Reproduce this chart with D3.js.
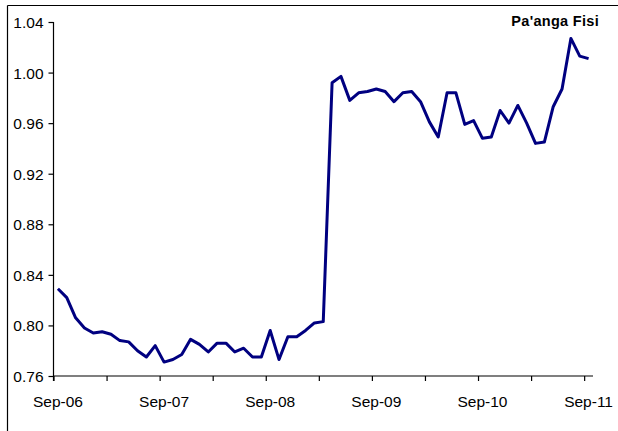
<!DOCTYPE html>
<html>
<head>
<meta charset="utf-8">
<script src="https://cdn.jsdelivr.net/npm/d3@7"></script>
<style>
  html, body { margin: 0; padding: 0; background: #fff; }
  svg { display: block; }
  text { font-family: "Liberation Sans", Arial, sans-serif; fill: #000; }
</style>
</head>
<body>
<svg id="chart" width="618" height="431"></svg>
<script>
// ---- data ----
const title = "Pa'anga Fisi";
const months = [
  "Sep-06","Oct-06","Nov-06","Dec-06","Jan-07","Feb-07","Mar-07","Apr-07","May-07","Jun-07","Jul-07","Aug-07",
  "Sep-07","Oct-07","Nov-07","Dec-07","Jan-08","Feb-08","Mar-08","Apr-08","May-08","Jun-08","Jul-08","Aug-08",
  "Sep-08","Oct-08","Nov-08","Dec-08","Jan-09","Feb-09","Mar-09","Apr-09","May-09","Jun-09","Jul-09","Aug-09",
  "Sep-09","Oct-09","Nov-09","Dec-09","Jan-10","Feb-10","Mar-10","Apr-10","May-10","Jun-10","Jul-10","Aug-10",
  "Sep-10","Oct-10","Nov-10","Dec-10","Jan-11","Feb-11","Mar-11","Apr-11","May-11","Jun-11","Jul-11","Aug-11",
  "Sep-11"
];
const values = [
  0.829, 0.822, 0.806, 0.798, 0.794, 0.795, 0.793, 0.788, 0.787, 0.780, 0.775, 0.784,
  0.771, 0.773, 0.777, 0.789, 0.785, 0.779, 0.786, 0.786, 0.779, 0.782, 0.775, 0.775,
  0.796, 0.773, 0.791, 0.791, 0.796, 0.802, 0.803, 0.992, 0.997, 0.978, 0.984, 0.985,
  0.987, 0.985, 0.977, 0.984, 0.985, 0.977, 0.961, 0.949, 0.984, 0.984, 0.959, 0.962,
  0.948, 0.949, 0.970, 0.960, 0.974, 0.960, 0.944, 0.945, 0.973, 0.987, 1.027, 1.013,
  1.011
];
const yTicks = [0.76, 0.80, 0.84, 0.88, 0.92, 0.96, 1.00, 1.04];
const xLabels = ["Sep-06","Sep-07","Sep-08","Sep-09","Sep-10","Sep-11"];

// ---- layout ----
const svg = d3.select("#chart");
const mLeft = 53.5, mRight = 593, mTop = 22, mBottom = 376;

const x = d3.scaleLinear().domain([0, months.length]).range([mLeft, mRight]);
const y = d3.scaleLinear().domain([0.76, 1.04]).range([mBottom, mTop]);

// frame (top & left edges)
svg.append("line").attr("x1", 7.5).attr("x2", 618).attr("y1", 5.5).attr("y2", 5.5)
  .attr("stroke", "#000").attr("stroke-width", 1.2);
svg.append("line").attr("x1", 7.5).attr("x2", 7.5).attr("y1", 5.5).attr("y2", 431)
  .attr("stroke", "#000").attr("stroke-width", 1.2);

// y axis
const yAxis = svg.append("g").attr("transform", `translate(${mLeft},0)`)
  .call(d3.axisLeft(y).tickValues(yTicks).tickFormat(d3.format(".2f")).tickSize(5).tickPadding(5));
yAxis.select(".domain").attr("d", `M0,${mTop}V${mBottom + 5}`);
yAxis.selectAll("text").style("font-size", "15.5px").attr("dy", "0.35em");

// x axis (ticks every 6 months at category boundaries)
const xTickIdx = d3.range(0, months.length + 1, 6);
const xAxis = svg.append("g").attr("transform", `translate(0,${mBottom})`)
  .call(d3.axisBottom(x).tickValues(xTickIdx).tickFormat("").tickSize(5).tickSizeOuter(0));
xAxis.select(".domain").attr("d", `M${mLeft},0H${mRight}`);

svg.selectAll("path.domain, .tick line").attr("stroke", "#000").attr("stroke-width", 1.2);

// x labels centred on the month's category
svg.append("g").selectAll("text").data(xLabels).join("text")
  .attr("x", d => x(months.indexOf(d) + 0.5))
  .attr("y", 406.5)
  .attr("text-anchor", "middle")
  .style("font-size", "15.5px")
  .text(d => d);

// line
const line = d3.line().x((d, i) => x(i + 0.5)).y(d => y(d));
svg.append("path").datum(values)
  .attr("d", line)
  .attr("fill", "none")
  .attr("stroke", "#000080")
  .attr("stroke-width", 3)
  .attr("stroke-linejoin", "round");

// title
svg.append("text")
  .attr("x", 599).attr("y", 26)
  .attr("text-anchor", "end")
  .style("font-size", "14.5px")
  .style("font-weight", "bold")
  .style("letter-spacing", "0.3px")
  .text(title);
</script>
</body>
</html>
